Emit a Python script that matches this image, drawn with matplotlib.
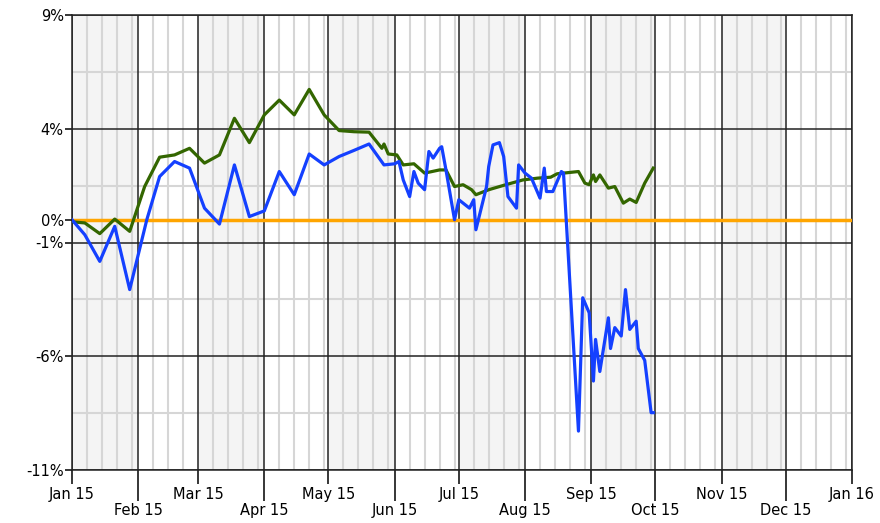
import pandas as pd
import matplotlib.pyplot as plt
import matplotlib.dates as mdates

# Series (percent change)
blue_dates = ["2015-01-01", "2015-01-07", "2015-01-14", "2015-01-21", "2015-01-28",
              "2015-02-05", "2015-02-11", "2015-02-18", "2015-02-25", "2015-03-04",
              "2015-03-11", "2015-03-18", "2015-03-25", "2015-04-01", "2015-04-08",
              "2015-04-15", "2015-04-22", "2015-04-29", "2015-05-06", "2015-05-13",
              "2015-05-20", "2015-05-27", "2015-06-01", "2015-06-03", "2015-06-05",
              "2015-06-08", "2015-06-10", "2015-06-12", "2015-06-15", "2015-06-17",
              "2015-06-19", "2015-06-22", "2015-06-23", "2015-06-25", "2015-06-29",
              "2015-07-01", "2015-07-06", "2015-07-08", "2015-07-09", "2015-07-14",
              "2015-07-15", "2015-07-17", "2015-07-20", "2015-07-22", "2015-07-24",
              "2015-07-28", "2015-07-29", "2015-08-01", "2015-08-04", "2015-08-08",
              "2015-08-10", "2015-08-11", "2015-08-14", "2015-08-18", "2015-08-19",
              "2015-08-26", "2015-08-28", "2015-08-31", "2015-09-02", "2015-09-03",
              "2015-09-05", "2015-09-09", "2015-09-10", "2015-09-12", "2015-09-15",
              "2015-09-17", "2015-09-19", "2015-09-22", "2015-09-23", "2015-09-26",
              "2015-09-29", "2015-09-30"]
blue_values = [0.00, -0.66, -1.83, -0.29, -3.07,
               0.00, 1.90, 2.56, 2.27, 0.51,
               -0.19, 2.41, 0.14, 0.39, 2.12,
               1.10, 2.89, 2.41, 2.78, 3.05,
               3.33, 2.41, 2.46, 2.56, 1.75,
               1.02, 2.12, 1.61, 1.32, 3.00,
               2.71, 3.14, 3.21, 2.19, 0.00,
               0.88, 0.51, 0.88, -0.44, 1.46,
               2.34, 3.29, 3.39, 2.78, 1.02,
               0.51, 2.41, 2.05, 1.83, 0.95,
               2.27, 1.24, 1.24, 2.12, 2.05,
               -9.29, -3.43, -4.09, -7.09, -5.26,
               -6.67, -4.31, -5.66, -4.74, -5.11,
               -3.07, -4.82, -4.46, -5.66, -6.18,
               -8.48, -8.48]

green_dates = ["2015-01-01", "2015-01-07", "2015-01-14", "2015-01-21", "2015-01-28",
               "2015-02-04", "2015-02-11", "2015-02-18", "2015-02-25", "2015-03-04",
               "2015-03-11", "2015-03-18", "2015-03-25", "2015-04-01", "2015-04-08",
               "2015-04-15", "2015-04-22", "2015-04-29", "2015-05-06", "2015-05-13",
               "2015-05-20", "2015-05-26", "2015-05-27", "2015-05-29", "2015-06-02",
               "2015-06-05", "2015-06-10", "2015-06-15", "2015-06-22", "2015-06-25",
               "2015-06-29", "2015-07-03", "2015-07-07", "2015-07-09", "2015-07-15",
               "2015-07-23", "2015-07-31", "2015-08-07", "2015-08-13", "2015-08-16",
               "2015-08-26", "2015-08-29", "2015-08-31", "2015-09-02", "2015-09-03",
               "2015-09-05", "2015-09-09", "2015-09-12", "2015-09-16", "2015-09-19",
               "2015-09-22", "2015-09-26", "2015-09-30"]
green_values = [-0.09, -0.14, -0.61, 0.03, -0.51,
                1.46, 2.75, 2.85, 3.14, 2.49,
                2.85, 4.46, 3.39, 4.61, 5.26,
                4.61, 5.73, 4.61, 3.92, 3.87,
                3.85, 3.14, 3.33, 2.89, 2.85,
                2.41, 2.46, 2.05, 2.19, 2.19,
                1.46, 1.54, 1.32, 1.10, 1.32,
                1.54, 1.75, 1.83, 1.87, 2.02,
                2.12, 1.61, 1.54, 1.97, 1.68,
                1.97, 1.39, 1.46, 0.73, 0.91,
                0.76, 1.61, 2.27]

y_ticks = [9, 4, 0, -1, -6, -11]
y_minor = [6.5, 1.5, -3.5, -8.5]

blue = pd.Series(blue_values, index=pd.to_datetime(blue_dates))
green = pd.Series(green_values, index=pd.to_datetime(green_dates))

months = pd.date_range("2015-01-01", "2016-01-01", freq="MS")

fig = plt.figure(figsize=(8.8, 5.23), dpi=100)
ax = fig.add_axes([72 / 880, 1 - 470 / 523, 780 / 880, 455 / 523])

# alternating month shading + weekly light lines
for i in range(len(months) - 1):
    if i % 2 == 0:
        ax.axvspan(months[i], months[i + 1], color="#f4f4f4", lw=0, zorder=0)
    for d in (8, 15, 22, 29):
        day = months[i] + pd.Timedelta(days=d - 1)
        if day < months[i + 1]:
            ax.axvline(day, color="#d6d6d6", lw=1.5, zorder=1)

for y in y_minor:
    ax.axhline(y, color="#d6d6d6", lw=1.5, zorder=1)
for y in y_ticks:
    ax.axhline(y, color="#222222", lw=1.1, zorder=2)
for m in months:
    ax.axvline(m, color="#222222", lw=1.1, zorder=2)

ax.axhline(0, color="#ffa500", lw=2.5, zorder=3)
ax.plot(green.index, green.values, color="#336600", lw=2.3, zorder=4)
ax.plot(blue.index, blue.values, color="#1440ff", lw=2.3, zorder=5)

ax.set_xlim(months[0], months[-1])
ax.set_ylim(-11, 9)
ax.set_yticks(y_ticks)
ax.set_yticklabels([f"{t}%" for t in y_ticks])

ax.set_xticks(months[::2])
ax.set_xticklabels([m.strftime("%b %y") for m in months[::2]])
ax.set_xticks(months[1::2], minor=True)
ax.set_xticklabels([m.strftime("%b %y") for m in months[1::2]], minor=True)
ax.tick_params(axis="x", which="major", length=10, width=1.1, pad=2, labelsize=10.5)
ax.tick_params(axis="x", which="minor", length=22, width=1.1, pad=2, labelsize=10.5)
ax.tick_params(axis="y", length=5, width=1.1, pad=1, labelsize=10.5)

for s in ax.spines.values():
    s.set_color("#222222")
    s.set_linewidth(1.1)

fig.savefig("out.png", dpi=100)
